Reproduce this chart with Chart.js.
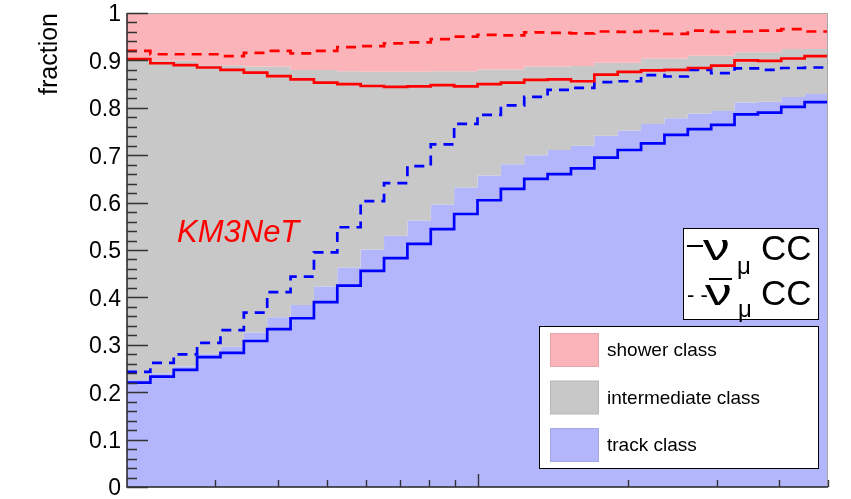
<!DOCTYPE html>
<html lang="en">
<head>
<meta charset="UTF-8">
<title>KM3NeT event class fractions</title>
<script src="https://cdn.jsdelivr.net/npm/chart.js"></script>
<style>
    body { margin: 0; background: #fff; }
    #chart { display: block; }
</style>
</head>
<body>
<canvas id="chart" width="851" height="499"></canvas>
<script>
// histogram binning (log x, 30 bins)
const binLow = 2, binHigh = 50, nBins = 30;
const edges = Array.from({ length: nBins + 1 }, (_, i) => binLow * Math.pow(binHigh / binLow, i / nBins));

// stacked fills (upper edge of each class)
const trackFill = [0.226, 0.240, 0.254, 0.281, 0.296, 0.326, 0.358, 0.384, 0.423, 0.463,
                   0.501, 0.530, 0.562, 0.596, 0.632, 0.657, 0.681, 0.700, 0.711, 0.720,
                   0.741, 0.752, 0.766, 0.778, 0.788, 0.793, 0.811, 0.813, 0.823, 0.829];
const intermediateFill = [0.899, 0.899, 0.899, 0.890, 0.890, 0.887, 0.887, 0.880, 0.880, 0.877,
                          0.876, 0.876, 0.876, 0.877, 0.877, 0.881, 0.881, 0.887, 0.887, 0.888,
                          0.895, 0.895, 0.904, 0.904, 0.910, 0.910, 0.917, 0.917, 0.924, 0.924];
const showerFill = [1, 1, 1, 1, 1, 1, 1, 1, 1, 1, 1, 1, 1, 1, 1, 1, 1, 1, 1, 1, 1, 1, 1, 1, 1, 1, 1, 1, 1, 1];

// nu_mu CC (solid) and anti-nu_mu CC (dashed)
const numuTrack = [0.220, 0.233, 0.247, 0.274, 0.283, 0.308, 0.333, 0.356, 0.390, 0.425,
                   0.456, 0.483, 0.513, 0.544, 0.576, 0.605, 0.629, 0.650, 0.660, 0.672,
                   0.695, 0.711, 0.725, 0.743, 0.755, 0.764, 0.786, 0.790, 0.802, 0.812];
const anumuTrack = [0.243, 0.262, 0.280, 0.304, 0.331, 0.368, 0.411, 0.444, 0.495, 0.548,
                    0.603, 0.641, 0.677, 0.723, 0.766, 0.785, 0.805, 0.823, 0.838, 0.842,
                    0.854, 0.856, 0.869, 0.866, 0.880, 0.873, 0.883, 0.880, 0.884, 0.885];
const numuNotShower = [0.903, 0.894, 0.890, 0.885, 0.880, 0.874, 0.867, 0.860, 0.853, 0.850,
                       0.846, 0.844, 0.845, 0.848, 0.845, 0.850, 0.853, 0.859, 0.860, 0.856,
                       0.870, 0.876, 0.879, 0.880, 0.884, 0.889, 0.900, 0.899, 0.904, 0.909];
const anumuNotShower = [0.920, 0.913, 0.913, 0.913, 0.909, 0.916, 0.920, 0.915, 0.920, 0.928,
                        0.930, 0.936, 0.938, 0.945, 0.950, 0.954, 0.953, 0.959, 0.958, 0.957,
                        0.961, 0.960, 0.962, 0.956, 0.963, 0.960, 0.961, 0.963, 0.966, 0.961];

// axes
const yTickValues = [0, 0.1, 0.2, 0.3, 0.4, 0.5, 0.6, 0.7, 0.8, 0.9, 1];
const yTickLabels = ['0', '0.1', '0.2', '0.3', '0.4', '0.5', '0.6', '0.7', '0.8', '0.9', '1'];
const yMinorStep = 0.02;
const xTickValues = [3, 4, 5, 6, 7, 8, 9, 10, 20, 30, 40, 50];
const xMajorTicks = [10];

const classNames = ['shower class', 'intermediate class', 'track class'];
const classColors = ['#fbb4b9', '#c8c8c8', '#b3b6fb'];

const FONT = '"Liberation Sans", Arial, Helvetica, sans-serif';

// histogram -> stepped points
function steps(values) {
    const pts = values.map((v, i) => ({ x: edges[i], y: v }));
    pts.push({ x: edges[nBins], y: values[nBins - 1] });
    return pts;
}

function histLine(data, color, dashed) {
    return {
        data: steps(data),
        borderColor: color,
        borderWidth: 2.7,
        borderDash: dashed ? [10, 7] : [],
        stepped: true,
        fill: false
    };
}

function histFill(data, color, target) {
    return {
        data: steps(data),
        borderWidth: 0,
        borderColor: 'transparent',
        backgroundColor: color,
        stepped: true,
        fill: target
    };
}

// wide greek nu, like ROOT's symbol font
function drawNu(ctx, x, baseline) {
    ctx.save();
    ctx.translate(x, baseline);
    ctx.scale(1.45, 1);
    ctx.font = '37px ' + FONT;
    ctx.fillText('\u03bd', 0, 0);
    ctx.restore();
}

const rootFrame = {
    id: 'rootFrame',
    beforeDraw(chart) {
        const ctx = chart.ctx;
        ctx.save();
        ctx.fillStyle = '#fff';
        ctx.fillRect(0, 0, chart.width, chart.height);
        ctx.restore();
    },
    afterDraw(chart) {
        const { ctx, chartArea: a } = chart;
        const x = chart.scales.x, y = chart.scales.y;
        ctx.save();

        // top / right frame
        ctx.strokeStyle = '#a8a8a8';
        ctx.lineWidth = 1;
        ctx.beginPath();
        ctx.moveTo(a.left, a.top + 0.5);
        ctx.lineTo(a.right - 0.5, a.top + 0.5);
        ctx.lineTo(a.right - 0.5, a.bottom);
        ctx.stroke();

        // axes
        ctx.strokeStyle = '#222';
        ctx.lineWidth = 1.5;
        ctx.beginPath();
        ctx.moveTo(a.left, a.top);
        ctx.lineTo(a.left, a.bottom);
        ctx.lineTo(a.right, a.bottom);
        ctx.stroke();

        // y ticks
        ctx.strokeStyle = '#333';
        ctx.lineWidth = 1.4;
        ctx.beginPath();
        const nMinor = Math.round(1 / yMinorStep);
        for (let i = 0; i <= nMinor; i++) {
            const py = Math.round(y.getPixelForValue(i * yMinorStep)) + 0.5;
            const len = i % 5 === 0 ? 21 : 10;
            ctx.moveTo(a.left, py);
            ctx.lineTo(a.left + len, py);
        }
        // x ticks
        xTickValues.forEach(v => {
            const px = Math.round(x.getPixelForValue(v)) + 0.5;
            const len = xMajorTicks.includes(v) ? 13 : 7;
            ctx.moveTo(px, a.bottom);
            ctx.lineTo(px, a.bottom - len);
        });
        ctx.stroke();

        // y labels
        ctx.fillStyle = '#000';
        ctx.font = '23px ' + FONT;
        ctx.textAlign = 'right';
        ctx.textBaseline = 'middle';
        yTickValues.forEach((v, i) => {
            ctx.fillText(yTickLabels[i], 121, y.getPixelForValue(v) + 2);
        });

        // y title
        ctx.save();
        ctx.translate(57, a.top);
        ctx.rotate(-Math.PI / 2);
        ctx.font = '25px ' + FONT;
        ctx.textAlign = 'right';
        ctx.textBaseline = 'alphabetic';
        ctx.fillText('fraction', 0, 0);
        ctx.restore();

        // KM3NeT label
        ctx.fillStyle = '#ff0000';
        ctx.font = 'italic 31px ' + FONT;
        ctx.textAlign = 'left';
        ctx.textBaseline = 'alphabetic';
        ctx.fillText('KM3NeT', 177, 242);

        // legend: interaction type
        ctx.fillStyle = '#fff';
        ctx.fillRect(683, 228, 135, 91);
        ctx.strokeStyle = '#000';
        ctx.lineWidth = 1;
        ctx.strokeRect(683.5, 228.5, 135, 91);
        ctx.fillStyle = '#000';
        ctx.fillRect(687, 245, 16, 2);
        drawNu(ctx, 703, 260);
        ctx.font = '35px ' + FONT;
        ctx.fillText('CC', 761, 260);
        ctx.font = '24px ' + FONT;
        ctx.fillText('\u03bc', 737, 274);
        ctx.font = '22px ' + FONT;
        ctx.fillText('- -', 687, 302);
        drawNu(ctx, 705, 305);
        ctx.font = '35px ' + FONT;
        ctx.fillText('CC', 761, 305);
        ctx.fillRect(709, 278, 23, 2);
        ctx.font = '24px ' + FONT;
        ctx.fillText('\u03bc', 738, 317);

        // legend: classes
        ctx.fillStyle = '#fff';
        ctx.fillRect(539, 326, 279, 142);
        ctx.strokeStyle = '#000';
        ctx.strokeRect(539.5, 326.5, 279, 142);
        ctx.font = '19px ' + FONT;
        ctx.textBaseline = 'middle';
        classNames.forEach((name, i) => {
            const top = 333 + i * 47.5;
            ctx.fillStyle = classColors[i];
            ctx.fillRect(550, top, 49, 34);
            ctx.strokeStyle = 'rgba(0,0,0,0.08)';
            ctx.strokeRect(550.5, top + 0.5, 48, 33);
            ctx.fillStyle = '#000';
            ctx.fillText(name, 607, top + 18);
        });

        ctx.restore();
    }
};

new Chart(document.getElementById('chart'), {
    type: 'line',
    data: {
        datasets: [
            histLine(numuNotShower, '#ff0000', false),
            histLine(anumuNotShower, '#ff0000', true),
            histLine(numuTrack, '#0000ff', false),
            histLine(anumuTrack, '#0000ff', true),
            histFill(showerFill, classColors[0], '+1'),
            histFill(intermediateFill, classColors[1], '+1'),
            histFill(trackFill, classColors[2], 'origin')
        ]
    },
    options: {
        responsive: false,
        animation: false,
        events: [],
        layout: { padding: { left: 127, top: 13, right: 23, bottom: 12 } },
        plugins: { legend: { display: false }, tooltip: { enabled: false } },
        elements: { point: { radius: 0 }, line: { tension: 0 } },
        scales: {
            x: { type: 'logarithmic', min: binLow, max: binHigh, display: false },
            y: { type: 'linear', min: 0, max: 1, display: false }
        }
    },
    plugins: [rootFrame]
});
</script>
</body>
</html>
